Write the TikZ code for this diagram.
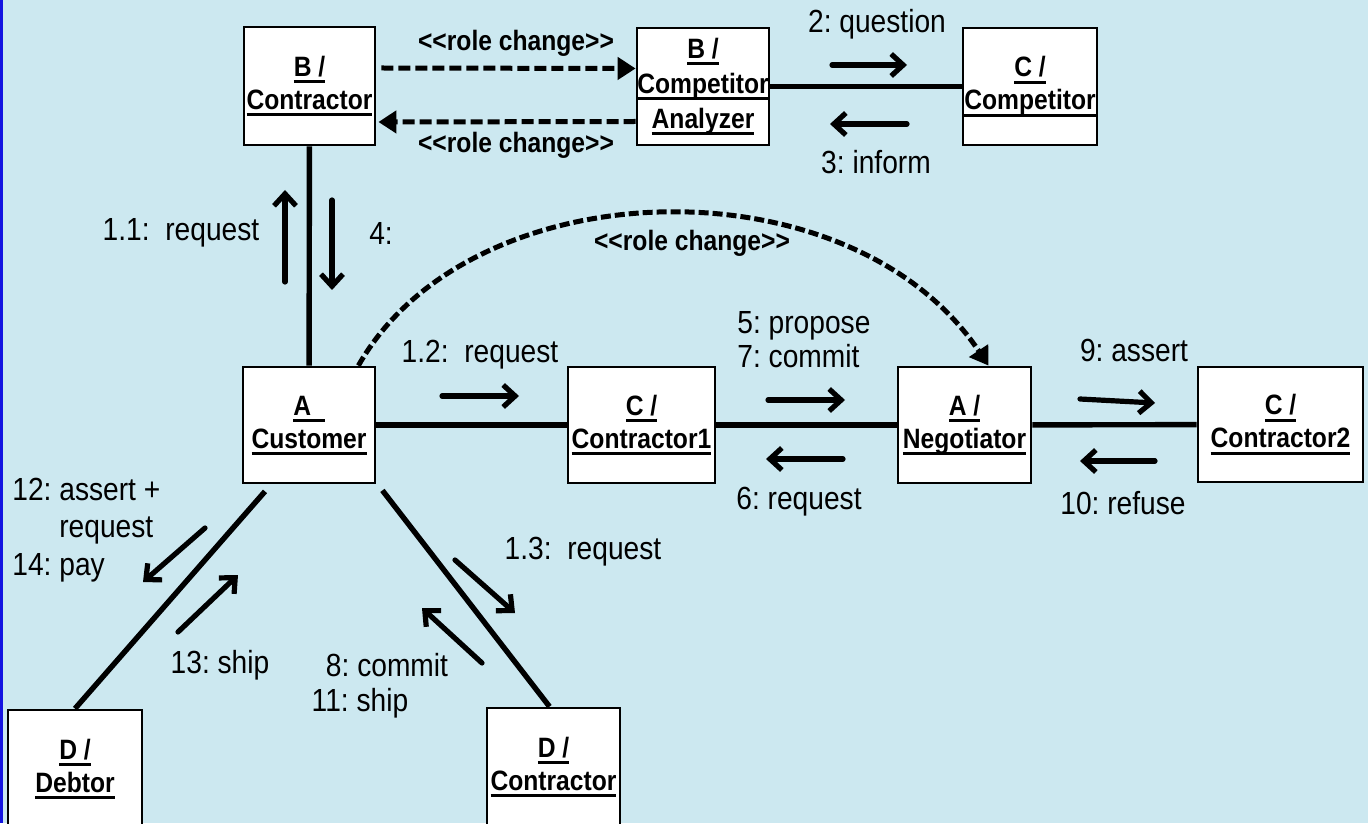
\documentclass[tikz,border=0pt]{standalone}
\usepackage{fontspec}
\setmainfont{Liberation Sans}[FakeStretch=0.88,Ligatures=TeXOff]
\usetikzlibrary{arrows.meta,calc}
\definecolor{slidebg}{RGB}{204,232,240}
\definecolor{slideedge}{RGB}{20,20,225}
\newcommand\unm[1]{\setbox0=\hbox{#1}\rlap{\rule[-3.6pt]{\wd0}{1.4pt}}\box0}
\frenchspacing

\begin{document}
\begin{tikzpicture}[x=0.5pt,y=-0.5pt,
		obj/.style={draw,line width=1.4pt,fill=white,inner sep=0pt,align=center,font=\bfseries\fontsize{14}{16.5}\selectfont},
		assoc/.style={line width=2.7pt},
		msg/.style={line width=2.6pt,line cap=round,-{Straight Barb[length=6pt,width=11pt]}},
		rolechg/.style={line width=2.5pt,dash pattern=on 6pt off 2.5pt,-{Triangle[length=9pt,width=11pt]}},
		lbl/.style={inner sep=0pt,font=\fontsize{16}{19}\selectfont},
		rlbl/.style={inner sep=0pt,font=\bfseries\fontsize{14}{16}\selectfont}]
		%%%%% START %%%%%
		\useasboundingbox (0,0) rectangle (1368,823);
		\clip (0,0) rectangle (1368,823);
		\fill[slidebg] (0,0) rectangle (1368,823);
		\fill[slideedge] (0,0) rectangle (2.5,823);
		
		% objects
		\node[obj,minimum width=65.5pt,minimum height=59pt] (bcon) at (309.5,86) {\unm{B /}\\\unm{Contractor}};
		\node[obj,minimum width=66pt,minimum height=58.5pt,font=\bfseries\fontsize{14}{17.5}\selectfont] (bana) at (703,86.5) {\unm{B /}\\\unm{Competitor}\\\unm{Analyzer}};
		\node[obj,minimum width=67pt,minimum height=58.5pt] (ccomp) at (1030,86.5) {\unm{C /}\\\unm{Competitor}};
		\node[obj,minimum width=66pt,minimum height=58pt] (acust) at (309,425) {\unm{A \phantom{/}}\\\unm{Customer}};
		\node[obj,minimum width=73.5pt,minimum height=58pt] (ccon1) at (641.5,425) {\unm{C /}\\\unm{Contractor1}};
		\node[obj,minimum width=66.5pt,minimum height=58pt] (aneg) at (964.5,425) {\unm{A /}\\\unm{Negotiator}};
		\node[obj,minimum width=82.5pt,minimum height=57.5pt] (ccon2) at (1280.5,424.5) {\unm{C /}\\\unm{Contractor2}};
		\node[obj,minimum width=67pt,minimum height=59pt] (ddeb) at (75,769) {\unm{D /}\\\unm{Debtor}};
		\node[obj,minimum width=66.5pt,minimum height=59pt] (dcon) at (553.5,767) {\unm{D /}\\\unm{Contractor}};
		
		% links
		\draw[assoc] (bcon) -- (acust);
		\draw[assoc] (bana) -- (ccomp);
		\draw[assoc] (acust) -- (ccon1);
		\draw[assoc] (ccon1) -- (aneg);
		\draw[assoc] (aneg) -- (ccon2);
		\draw[assoc] ([xshift=-22pt,yshift=-3.5pt]acust.south) -- (ddeb.north);
		\draw[assoc] ([xshift=3pt,yshift=-3pt]acust.south east) -- ([xshift=-2pt]dcon.north);
		
		% role changes
		\draw[rolechg] ([xshift=2.5pt,yshift=9pt]bcon.east) -- ([yshift=9pt]bana.west);
		\draw[rolechg] ([yshift=-17.5pt]bana.west) -- ([xshift=1pt,yshift=-18pt]bcon.east);
		\draw[rolechg,dash pattern=on 5pt off 2pt] ([xshift=-9pt]acust.north east) .. controls (470,168) and (850,158) .. ([xshift=12pt]aneg.north);
		\node[rlbl] (rc1) at (516,43) {<<role change>>};
		\node[rlbl] (rc2) at (516,145) {<<role change>>};
		\node[rlbl] (rc3) at (692,243) {<<role change>>};
		
		% messages
		\draw[msg] (832,65) -- (907,65);
		\draw[msg] (907,124) -- (830,124);
		\draw[msg] (285,282) -- (285,190);
		\draw[msg] (332,200) -- (332,290);
		\draw[msg] (442,396) -- (519,396);
		\draw[msg] (768,400) -- (845,400);
		\draw[msg] (843,459) -- (766,459);
		\draw[msg] (1080,399) -- (1155,403);
		\draw[msg] (1155,461) -- (1080,461);
		\draw[msg] (205,528) -- (143,582);
		\draw[msg] (178,632) -- (238,575);
		\draw[msg] (455,560) -- (515,613);
		\draw[msg] (482,663) -- (422,608);
		
		\node[lbl] (q2) at (877,24) {2: question};
		\node[lbl] (i3) at (876,162) {3: inform};
		\node[lbl] (rq11) at (181,233) {1.1:\ \ request};
		\node[lbl] (r4) at (381,233) {4:};
		\node[lbl] (rq12) at (480,355) {1.2:\ \ request};
		\node[lbl,align=left,anchor=west,font=\fontsize{16}{17}\selectfont] (pc57) at (737,340) {5: propose\\7: commit};
		\node[lbl] (rq6) at (799,502) {6: request};
		\node[lbl] (as9) at (1134,350) {9: assert};
		\node[lbl] (rf10) at (1123,503) {10: refuse};
		\node[lbl,align=left,anchor=west,font=\fontsize{16}{18.75}\selectfont] (ar12) at (12,530) {12: assert +\\\phantom{12: }request\\14: pay};
		\node[lbl] (sh13) at (220,665) {13: ship};
		\node[lbl] (rq13) at (583,552) {1.3:\ \ request};
		\node[lbl] (cm8) at (387,665) {8: commit};
		\node[lbl] (sh11) at (360,703) {11: ship};
		%%%%% END %%%%%
\end{tikzpicture}
\end{document}
